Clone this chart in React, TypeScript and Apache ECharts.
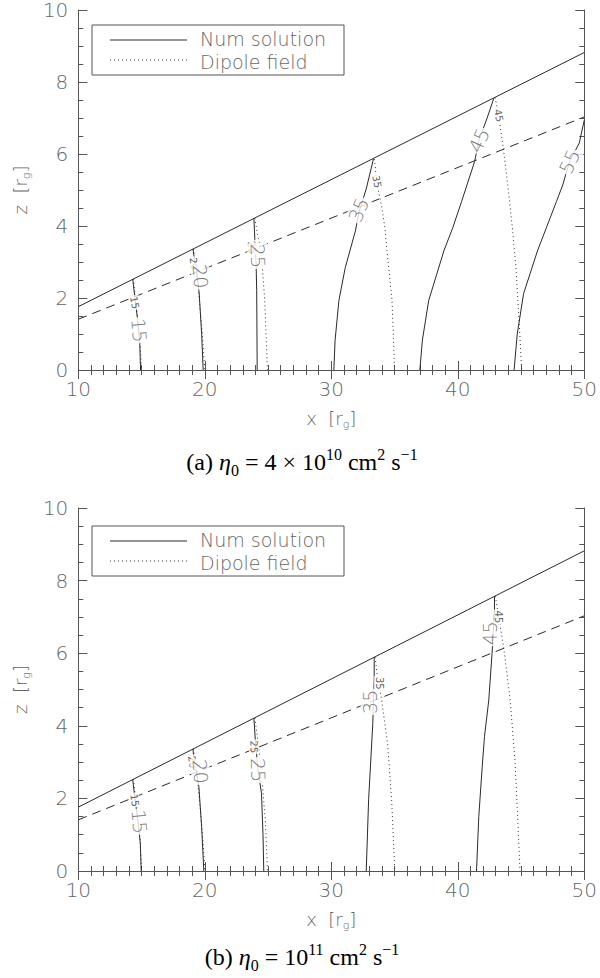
import React, { useEffect, useRef } from 'react';
import * as echarts from 'echarts';

// ---------- data ----------
const xTicks = [10, 20, 30, 40, 50];
const zTicks = [0, 2, 4, 6, 8, 10];

const upperBoundary = [[10, 1.76], [50, 8.82]];
const lowerDashed = [[10, 1.41], [50, 7.03]];

// panel (a) : numerical solution (solid) and dipole field (dotted)
const numA15 = [[14.3, 2.52], [14.45, 2.07], [14.65, 1.5], [14.85, 0.8], [14.92, 0]];
const dipA15 = [[14.35, 2.53], [14.55, 1.9], [14.75, 1.2], [14.9, 0.6], [15.0, 0]];
const numA20 = [[19.06, 3.36], [19.2, 3.03], [19.4, 2.6], [19.55, 2.15], [19.75, 1.0], [19.87, 0]];
const dipA20 = [[19.1, 3.37], [19.3, 2.8], [19.55, 2.0], [19.8, 1.0], [20.0, 0]];
const numA25 = [[23.88, 4.21], [23.96, 3.58], [24.05, 3.0], [24.1, 2.2], [24.14, 0]];
const dipA25 = [[23.95, 4.22], [24.15, 3.8], [24.45, 3.3], [24.74, 1.93], [24.95, 0]];
const numA35 = [[33.33, 5.86], [32.76, 5.03], [32.2, 4.4], [31.9, 3.86], [31.1, 2.84], [30.6, 1.93], [30.3, 0.83], [30.2, 0]];
const dipA35 = [[33.4, 5.86], [33.6, 5.2], [34.0, 4.5], [34.24, 3.95], [34.4, 3.31], [34.8, 1.93], [35.0, 0]];
const numA45 = [[42.85, 7.55], [42.32, 7.0], [41.67, 6.38], [41.33, 5.79], [40.3, 4.68], [39.6, 3.95], [38.9, 3.31], [37.7, 1.93], [37.2, 0.83], [37.0, 0]];
const dipA45 = [[42.95, 7.57], [43.23, 7.07], [43.6, 6.15], [44.0, 5.0], [44.3, 4.0], [44.6, 2.84], [44.9, 1.0], [45.05, 0]];
const numA55 = [[50, 6.94], [49.6, 6.3], [48.83, 5.79], [48.3, 5.14], [47.8, 4.68], [47.0, 3.95], [46.3, 3.31], [45.2, 2.12], [44.7, 1.0], [44.45, 0]];

// panel (b)
const numB15 = [[14.3, 2.51], [14.45, 2.05], [14.7, 1.4], [14.9, 0.77], [14.97, 0]];
const dipB15 = [[14.35, 2.53], [14.6, 1.8], [14.85, 1.0], [15.0, 0]];
const numB20 = [[19.06, 3.36], [19.14, 3.06], [19.35, 2.7], [19.53, 2.32], [19.75, 1.2], [19.92, 0]];
const dipB20 = [[19.1, 3.37], [19.35, 2.7], [19.65, 1.7], [19.9, 0.6], [20.0, 0]];
const numB25 = [[23.88, 4.21], [24.0, 3.56], [24.2, 2.8], [24.48, 2.14], [24.6, 1.0], [24.66, 0]];
const dipB25 = [[23.95, 4.22], [24.2, 3.6], [24.5, 2.6], [24.8, 1.3], [24.95, 0]];
const numB35 = [[33.39, 5.89], [33.39, 5.26], [33.33, 4.66], [33.28, 4.07], [32.95, 1.96], [32.76, 0]];
const dipB35 = [[33.46, 5.89], [33.7, 5.2], [33.98, 4.71], [34.45, 3.5], [34.77, 1.96], [35.02, 0]];
const numB45 = [[42.9, 7.56], [42.9, 7.1], [42.8, 6.55], [42.71, 6.0], [42.45, 4.71], [42.11, 3.7], [41.93, 2.87], [41.66, 1.5], [41.48, 0]];
const dipB45 = [[42.97, 7.57], [43.23, 7.0], [43.62, 6.18], [44.14, 4.71], [44.53, 3.0], [44.79, 1.04], [44.92, 0]];

// contour labels: [x, z, text, kind]
const labelsA: [number, number, string, string][] = [
  [14.45, 1.87, '15', 'dip'],
  [14.82, 1.1, '15', 'num'],
  [19.14, 2.95, '20', 'dip'],
  [19.66, 2.6, '20', 'num'],
  [23.72, 3.4, '25', 'dip'],
  [24.2, 3.17, '25', 'num'],
  [32.16, 4.45, '35', 'num'],
  [33.6, 5.23, '35', 'dip'],
  [41.67, 6.38, '45', 'num'],
  [43.23, 7.07, '45', 'dip'],
  [48.83, 5.79, '55', 'num'],
];
const labelsB: [number, number, string, string][] = [
  [14.45, 1.95, '15', 'dip'],
  [14.84, 1.36, '15', 'num'],
  [19.02, 3.0, '20', 'dip'],
  [19.66, 2.74, '20', 'num'],
  [23.88, 3.42, '25', 'dip'],
  [24.22, 2.78, '25', 'num'],
  [33.07, 4.66, '35', 'num'],
  [33.78, 5.17, '35', 'dip'],
  [42.58, 6.55, '45', 'num'],
  [43.23, 7.0, '45', 'dip'],
];
// label rotation (style)
const rotA = [-80, -85, -82, -85, -85, -88, 68, -80, 65, -78, 65];
const rotB = [-82, -85, -82, -85, -88, -88, 90, -90, 90, -90];

const captionA = '(a) {i|η}{sub|0} = 4 × 10{sup|10} cm{sup|2} s{sup|−1}';
const captionB = '(b) {i|η}{sub|0} = 10{sup|11} cm{sup|2} s{sup|−1}';

// ---------- styles ----------
const AX = '#555';
const LAB = '#666';
const SANS = '"DejaVu Sans", sans-serif';
const SERIF = '"Liberation Serif", "Times New Roman", serif';
const LINE = '#2a2a2a';

function makeAxes(gi: number) {
  const tickCommon = {
    axisLine: { show: true, lineStyle: { color: AX, width: 1 } },
    axisTick: { show: true, inside: true, length: 9, lineStyle: { color: AX } },
    splitLine: { show: false },
  };
  const nameStyle = {
    color: LAB, fontSize: 18, fontFamily: SANS, fontWeight: 200, lineHeight: 24,
    rich: { g: { fontSize: 11, lineHeight: 11, verticalAlign: 'bottom', color: LAB, fontFamily: SANS, fontWeight: 200 } },
  };
  const xs = [
    {
      type: 'value', gridIndex: gi, min: xTicks[0], max: xTicks[xTicks.length - 1], interval: 10,
      position: 'bottom', ...tickCommon,
      minorTick: { show: true, splitNumber: 10, length: 5, lineStyle: { color: AX } },
      axisLabel: { show: true, margin: 12, color: LAB, fontSize: 20, lineHeight: 14, fontFamily: SANS, fontWeight: 200 },
      name: 'x  [r{g|g}]', nameLocation: 'middle', nameGap: 36, nameTextStyle: nameStyle,
    },
    {
      type: 'value', gridIndex: gi, min: xTicks[0], max: xTicks[xTicks.length - 1], interval: 10,
      position: 'top', ...tickCommon,
      minorTick: { show: true, splitNumber: 10, length: 5, lineStyle: { color: AX } },
      axisLabel: { show: false },
    },
  ];
  const ys = [
    {
      type: 'value', gridIndex: gi, min: zTicks[0], max: zTicks[zTicks.length - 1], interval: 2,
      position: 'left', ...tickCommon,
      minorTick: { show: true, splitNumber: 4, length: 5, lineStyle: { color: AX } },
      axisLabel: { show: true, margin: 10, color: LAB, fontSize: 20, lineHeight: 14, fontFamily: SANS, fontWeight: 200 },
      name: 'z  [r{g|g}]', nameLocation: 'middle', nameGap: 46, nameRotate: 90, nameTextStyle: nameStyle,
    },
    {
      type: 'value', gridIndex: gi, min: zTicks[0], max: zTicks[zTicks.length - 1], interval: 2,
      position: 'right', ...tickCommon,
      minorTick: { show: true, splitNumber: 4, length: 5, lineStyle: { color: AX } },
      axisLabel: { show: false },
    },
  ];
  return { xs, ys };
}

function lineSeries(data: number[][], ai: number, kind: 'num' | 'dip' | 'bound' | 'dash') {
  const type = kind === 'dip' ? [1, 3] : kind === 'dash' ? [9, 6] : 'solid';
  return {
    type: 'line', xAxisIndex: ai, yAxisIndex: ai, data, showSymbol: false, symbol: 'none',
    silent: true, z: 3,
    lineStyle: { width: 1, color: kind === 'dip' ? '#333' : LINE, type },
  };
}

function labelSeries(labels: [number, number, string, string][], rots: number[], ai: number) {
  return {
    type: 'scatter', xAxisIndex: ai, yAxisIndex: ai, symbol: 'circle', symbolSize: 1,
    itemStyle: { color: 'rgba(0,0,0,0)' }, silent: true, z: 10,
    data: labels.map((l, i) => ({
      value: [l[0], l[1]],
      label: {
        show: true, position: 'inside', formatter: l[2], rotate: rots[i],
        fontSize: l[3] === 'dip' ? 10 : 19, fontFamily: SANS, fontWeight: l[3] === 'dip' ? 'normal' : 200,
        color: l[3] === 'dip' ? '#333' : '#555', backgroundColor: '#fff', padding: [0, 1],
      },
    })),
  };
}

function legendGraphics(dy: number) {
  const txt = { fill: LAB, fontSize: 19, lineHeight: 19, fontFamily: SANS, fontWeight: 200, verticalAlign: 'middle', align: 'left' };
  return [
    { type: 'rect', shape: { x: 92, y: 25 + dy, width: 252, height: 50 }, style: { fill: '#fff', stroke: AX, lineWidth: 1 }, z: 20 },
    { type: 'line', shape: { x1: 110, y1: 40 + dy, x2: 187, y2: 40 + dy }, style: { stroke: LINE, lineWidth: 1 }, z: 21 },
    { type: 'line', shape: { x1: 110, y1: 60 + dy, x2: 187, y2: 60 + dy }, style: { stroke: '#333', lineWidth: 1, lineDash: [1, 3] }, z: 21 },
    { type: 'text', x: 200, y: 38.5 + dy, style: { text: 'Num solution', ...txt }, z: 21 },
    { type: 'text', x: 200, y: 61.5 + dy, style: { text: 'Dipole field', ...txt }, z: 21 },
  ];
}

function captionGraphic(text: string, y: number) {
  const base = { fontFamily: SERIF, fill: '#000' };
  return {
    type: 'text', x: 302, y, z: 21,
    style: {
      text, ...base, fontSize: 24, lineHeight: 32, align: 'center', verticalAlign: 'middle',
      rich: {
        i: { ...base, fontSize: 24, lineHeight: 32, fontStyle: 'italic' },
        sub: { ...base, fontSize: 16, lineHeight: 16, verticalAlign: 'bottom' },
        sup: { ...base, fontSize: 16, lineHeight: 16, verticalAlign: 'top' },
      },
    },
  };
}

export default function App() {
  const ref = useRef<HTMLDivElement>(null);
  useEffect(() => {
    if (!ref.current) return;
    const chart = echarts.init(ref.current, undefined, { renderer: 'svg' });
    const a = makeAxes(0);
    const b = makeAxes(1);
    const seriesA = [
      lineSeries(upperBoundary, 0, 'bound'), lineSeries(lowerDashed, 0, 'dash'),
      lineSeries(numA15, 0, 'num'), lineSeries(dipA15, 0, 'dip'),
      lineSeries(numA20, 0, 'num'), lineSeries(dipA20, 0, 'dip'),
      lineSeries(numA25, 0, 'num'), lineSeries(dipA25, 0, 'dip'),
      lineSeries(numA35, 0, 'num'), lineSeries(dipA35, 0, 'dip'),
      lineSeries(numA45, 0, 'num'), lineSeries(dipA45, 0, 'dip'),
      lineSeries(numA55, 0, 'num'),
      labelSeries(labelsA, rotA, 0),
    ];
    const seriesB = [
      lineSeries(upperBoundary, 2, 'bound'), lineSeries(lowerDashed, 2, 'dash'),
      lineSeries(numB15, 2, 'num'), lineSeries(dipB15, 2, 'dip'),
      lineSeries(numB20, 2, 'num'), lineSeries(dipB20, 2, 'dip'),
      lineSeries(numB25, 2, 'num'), lineSeries(dipB25, 2, 'dip'),
      lineSeries(numB35, 2, 'num'), lineSeries(dipB35, 2, 'dip'),
      lineSeries(numB45, 2, 'num'), lineSeries(dipB45, 2, 'dip'),
      labelSeries(labelsB, rotB, 2),
    ];
    chart.setOption({
      animation: false,
      backgroundColor: '#fff',
      grid: [
        { left: 73, top: 7, width: 512, height: 363, containLabel: false },
        { left: 73, top: 508, width: 512, height: 363, containLabel: false },
      ],
      xAxis: [...a.xs, ...b.xs],
      yAxis: [...a.ys, ...b.ys],
      series: [...seriesA, ...seriesB],
      graphic: [
        ...legendGraphics(0),
        ...legendGraphics(501),
        captionGraphic(captionA, 462),
        captionGraphic(captionB, 957),
      ],
    });
    return () => chart.dispose();
  }, []);
  return <div ref={ref} style={{ position: 'absolute', left: 0, top: 0, width: 600, height: 978 }} />;
}
